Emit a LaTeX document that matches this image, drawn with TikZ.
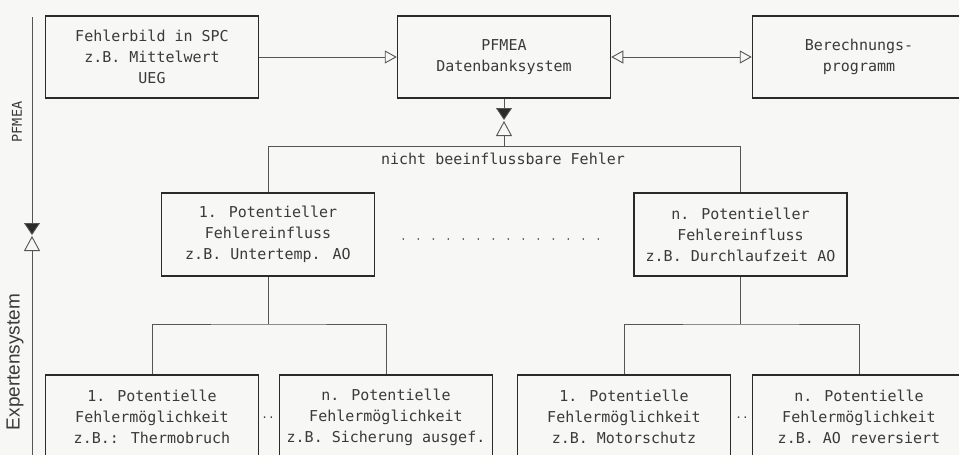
\documentclass[tikz,border=0pt]{standalone}
\usepackage{fontspec}
\newfontfamily\plotfont{DejaVu Sans Mono}
\newfontfamily\axisfont{Liberation Sans}
\usetikzlibrary{arrows.meta}
\definecolor{ink}{HTML}{2A2A2A}
\definecolor{txt}{HTML}{3A3A3A}
\definecolor{wirec}{HTML}{555555}
\definecolor{paper}{HTML}{F7F7F5}
\begin{document}
\begin{tikzpicture}[x=1pt,y=-1pt,
  box/.style={draw=ink, line width=1.5pt, inner sep=0pt, minimum width=213pt,
    minimum height=82pt, align=center, text=txt,
    font=\plotfont\fontsize{15}{21}\selectfont},
  lowbox/.style={box, minimum height=84pt},
  wire/.style={draw=wirec, line width=0.9pt},
  opentip/.style={-{Triangle[open,length=12pt,width=13pt,line width=0.9pt]}},
  bothtips/.style={{Triangle[open,length=12pt,width=13pt,line width=0.9pt]}-{Triangle[open,length=12pt,width=13pt,line width=0.9pt]}},
  blacktip/.style={-{Triangle[length=12pt,width=16pt,fill=ink]}},
  whitetip/.style={-{Triangle[open,length=15pt,width=16pt,line width=0.9pt]}},
  plain/.style={text=txt, font=\plotfont\fontsize{15}{21}\selectfont}
]
\useasboundingbox (0,0) rectangle (959,455);
\clip (0,0) rectangle (959,455);
\fill[paper] (0,0) rectangle (959,455);

% top row
\node[box] (spc) at (152,57) {Fehlerbild in SPC\\z.B. Mittelwert\\UEG};
\node[box] (db) at (504,57) {PFMEA\\Datenbanksystem};
\node[box] (calc) at (859,57) {Berechnungs-\\programm};

% middle row
\node[box, minimum height=83pt] (e1) at (268,234.5) {1. Potentieller\\Fehlereinfluss\\z.B. Untertemp. AO};
\node[box, minimum height=83pt] (en) at (740.5,234.5) {n. Potentieller\\Fehlereinfluss\\z.B. Durchlaufzeit AO};

% bottom row
\node[lowbox] (m1) at (152,417) {1. Potentielle\\Fehlerm\"oglichkeit\\z.B.: Thermobruch};
\node[lowbox] (m2) at (386,417) {n. Potentielle\\Fehlerm\"oglichkeit\\z.B. Sicherung ausgef.};
\node[lowbox] (m3) at (624,417) {1. Potentielle\\Fehlerm\"oglichkeit\\z.B. Motorschutz};
\node[lowbox] (m4) at (859,417) {n. Potentielle\\Fehlerm\"oglichkeit\\z.B. AO reversiert};

% top connectors
\draw[wire, opentip] (spc.east) -- (db.west);
\draw[wire, bothtips] (db.east) -- (calc.west);

% junction below database
\coordinate (mt) at (504,120);
\coordinate (mb) at (504,121);
\coordinate (jm) at (504,146);
\coordinate (jl) at (268,146);
\coordinate (jr) at (740.5,146);
\draw[wire, blacktip] (db.south) -- (mt);
\draw[wire, whitetip] (jm) -- (mb);
\draw[wire] (e1.north) -- (jl) -- (jr) -- (en.north);
\node[plain] (nb) at (503,159) {nicht beeinflussbare Fehler};

% dotted ellipsis between middle boxes
\draw[draw=txt, line width=1.6pt, dash pattern=on 0pt off 15pt, line cap=round]
  ([xshift=28pt,yshift=-4.5pt]e1.east) -- ([xshift=-26pt,yshift=-4.5pt]en.west);

% lower branches
\coordinate (b1) at (268,324);
\coordinate (b2) at (740.5,324);
\draw[wire] (e1.south) -- (b1);
\draw[wire] (m1.north) |- (b1) -| (m2.north);
\draw[wire] (en.south) -- (b2);
\draw[wire] (m3.north) |- (b2) -| (m4.north);

\node[text=txt, font=\plotfont\fontsize{11}{11}\selectfont] (d1) at (268,418) {..};
\node[text=txt, font=\plotfont\fontsize{11}{11}\selectfont] (d2) at (742,418) {..};

% left axis
\coordinate (at) at (32,17);
\coordinate (ab) at (32,460);
\coordinate (am1) at (32,235);
\coordinate (am2) at (32,236);
\draw[wire, blacktip] (at) -- (am1);
\draw[wire, whitetip] (ab) -- (am2);
\node[rotate=90, text=txt, font=\plotfont\fontsize{13.5}{13.5}\selectfont] (lp) at (17,122) {PFMEA};
\node[rotate=90, text=txt, font=\axisfont\fontsize{19}{19}\selectfont] (le) at (15,362) {Expertensystem};
\end{tikzpicture}
\end{document}
